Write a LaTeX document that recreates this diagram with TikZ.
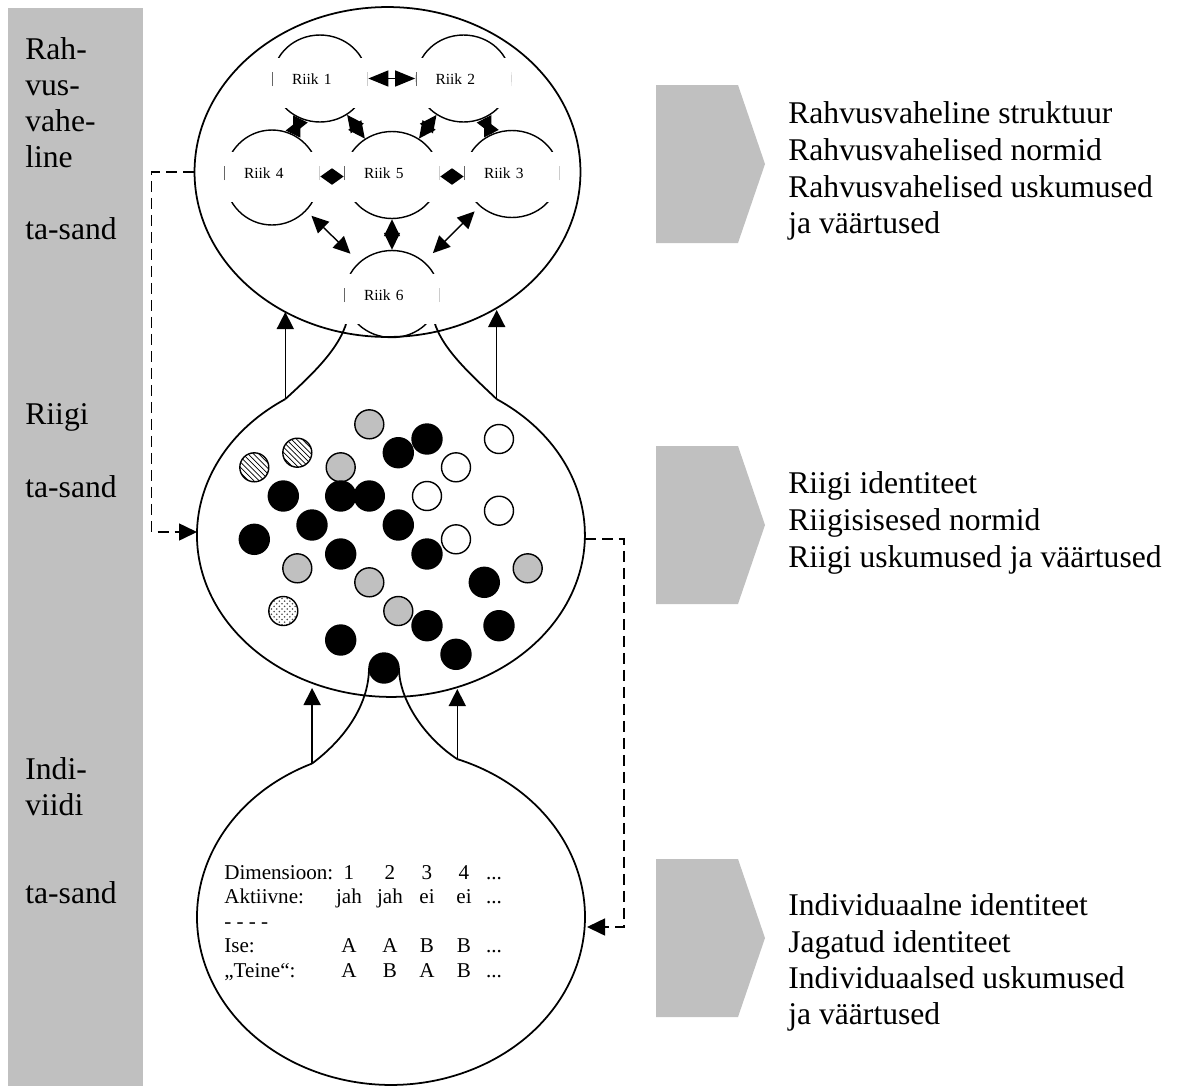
\documentclass[tikz,border=0pt]{standalone}
\usepackage{fontspec}
\setmainfont{Liberation Serif}
\usetikzlibrary{arrows.meta,shapes.geometric,patterns}
\definecolor{grisfond}{HTML}{C0C0C0}
\newcommand{\punktid}{...}
\tikzset{
  ring/.style={ellipse, draw, line width=0.8pt, minimum width=1.88cm, minimum height=1.74cm, inner sep=0pt},
  riik/.style={rectangle, fill=white, inner xsep=0.4cm, inner ysep=0pt, text width=1.12cm, align=left,
               text height=0.53cm, text depth=0.47cm, font=\fontsize{8.8}{10}\selectfont,
               path picture={
                 \draw[black!60, line width=0.5pt] ([xshift=0.3pt, yshift=-0.07cm]path picture bounding box.west)
                   -- ([xshift=0.3pt, yshift=0.21cm]path picture bounding box.west);
                 \draw[black!20, line width=0.5pt] ([xshift=-0.3pt, yshift=-0.07cm]path picture bounding box.east)
                   -- ([xshift=-0.3pt, yshift=0.21cm]path picture bounding box.east);}},
  nool/.style={-{Triangle[length=0.34cm, width=0.34cm]}, line width=0.9pt},
  inool/.style={{Triangle[length=#1, width=0.32cm]}-{Triangle[length=#1, width=0.32cm]}, line width=0.8pt},
  inool/.default=0.34cm,
  katk/.style={dash pattern=on 0.22cm off 0.12cm, line width=0.9pt},
  silt/.style={font=\fontsize{18}{20.7}\selectfont, inner sep=0pt, anchor=base west},
  tabel/.style={font=\fontsize{12}{13.8}\selectfont, inner sep=0pt, anchor=base},
  pall/.style={draw, line width=0.8pt},
}

\begin{document}
\begin{tikzpicture}[x=0.02cm, y=-0.02cm]
  \useasboundingbox (0,0) rectangle (1191,1086);
  % hall riba ja noolekastid
  \fill[grisfond] (8,8) rectangle (143,1086);
  \foreach \a/\b in {85/243, 446/604, 859/1017}
    \fill[grisfond] (656,\a) -- (738,\a) -- (765,{(\a+\b)/2}) -- (738,\b) -- (656,\b) -- cycle;

  % tasandite nimed
  \foreach \t/\y [count=\i] in {Rah-/59, vus-/95, vahe-/131, line/167, ta-sand/239,
      Riigi/424, ta-sand/497, Indi-/779, viidi/815, ta-sand/903}
    \node[silt] (vas\i) at (25,\y) {\t};
  \foreach \t/\y [count=\i] in {Rahvusvaheline struktuur/123, Rahvusvahelised normid/160,
      Rahvusvahelised uskumused/197, ja väärtused/233,
      Riigi identiteet/493, Riigisisesed normid/530, Riigi uskumused ja väärtused/567,
      Individuaalne identiteet/915, Jagatud identiteet/952, Individuaalsed uskumused/988, ja väärtused/1024}
    \node[silt] (par\i) at (788,\y) {\t};

  % riigi tasand
  \coordinate (hl) at (285.3,399.1);
  \coordinate (hr) at (496.7,399.1);
  \draw[line width=1pt] (hl) arc[start angle=123, end angle=417, x radius=3.88cm, y radius=3.24cm];
  \draw[line width=1pt] (hl) .. controls (315,372) and (343,345) .. (348,316);
  \draw[line width=1pt] (hr) .. controls (468,372) and (438,345) .. (433,316);

  % indiviidi tasand
  \coordinate (ll) at (312.1,763.5);
  \coordinate (lr) at (457.3,759.1);
  \draw[line width=1pt] (ll) arc[start angle=114, end angle=430, x radius=3.88cm, y radius=3.36cm];
  \draw[line width=1pt] (ll) .. controls (350,735) and (369,700) .. (369,668);
  \draw[line width=1pt] (lr) .. controls (425,738) and (399,700) .. (399,668);

  % pallid
  \foreach \x/\y in {369.3/424.3, 340.7/467.3, 297.3/568.3, 369.3/582.3, 398.3/611, 527.7/568.3}
    \draw[pall, fill=grisfond] (\x,\y) circle[radius=0.29cm];
  \foreach \x/\y in {499/439, 456/467.3, 427/496, 499/510.7, 456/539.3}
    \draw[pall, fill=white] (\x,\y) circle[radius=0.29cm];
  \foreach \x/\y in {254.3/467.3, 297.3/452.7}
    \draw[pall, pattern=north west lines] (\x,\y) circle[radius=0.29cm];
  \draw[pall, pattern=crosshatch dots, pattern color=black!70] (283.3,611) circle[radius=0.29cm];
  \foreach \x/\y in {398.3/452.7, 427/439, 283.3/496, 340.7/496, 369.3/496, 312/525, 398.3/525,
      254.3/539.3, 340.7/554, 427/554, 484.3/582.3, 427/625.7, 499/625.7, 340.7/640, 456/654.3, 384/668}
    \draw[pall, fill=black] (\x,\y) circle[radius=0.3cm];

  % rahvusvaheline tasand
  \node[ellipse, draw, line width=1pt, minimum width=7.72cm, minimum height=6.6cm, inner sep=0pt]
    (rahv) at (387.5,172) {};
  \node[ring] (c1) at (320,78.5) {};
  \node[ring] (c2) at (463.5,78.5) {};
  \node[ring, minimum height=1.9cm] (c4) at (272,177.5) {};
  \node[ring] (c5) at (392,175) {};
  \node[ring] (c3) at (512,174) {};
  \node[ring] (c6) at (392,294) {};
  \node[riik] (r1) at (320,82.5) {Riik 1};
  \node[riik] (r2) at (463.5,82.5) {Riik 2};
  \node[riik] (r4) at (272,176.5) {Riik 4};
  \node[riik] (r5) at (392,176.5) {Riik 5};
  \node[riik] (r3) at (512,176.5) {Riik 3};
  \node[riik] (r6) at (392,298.5) {Riik 6};
  \draw[inool=0.4cm] (r1.east |- c1) -- (r2.west |- c2);
  \draw[inool=0.23cm] (r4) -- (r5);
  \draw[inool=0.23cm] (r5) -- (r3);
  \draw[inool] (c1) -- (c4);
  \draw[inool] (c1) -- (c5);
  \draw[inool] (c2) -- (c5);
  \draw[inool] (c2) -- (c3);
  \draw[inool] (c5) -- (c6);
  \draw[inool, shorten <=0.14cm, shorten >=0.24cm] (c4) -- (c6);
  \draw[inool, shorten <=0.14cm, shorten >=0.24cm] (c3) -- (c6);

  % nooled tasandite vahel
  \coordinate (tl) at (285.3,312);
  \coordinate (tr) at (496.7,310);
  \coordinate (ml) at (312.1,688);
  \coordinate (mr) at (457.3,689);
  \draw[nool] (hl) -- (tl);
  \draw[nool] (hr) -- (tr);
  \draw[nool] (ll) -- (ml);
  \draw[nool] (lr) -- (mr);
  \coordinate (kl) at (197,532);
  \coordinate (kr1) at (585,539);
  \coordinate (kr2) at (587,927);
  \draw[katk, -{Triangle[length=0.36cm, width=0.34cm]}] (rahv.west) -- ++(-42,0) |- (kl);
  \draw[katk, -{Triangle[length=0.36cm, width=0.34cm]}] (kr1) -- ++(39,0) |- (kr2);

  % tabel
  \foreach \t/\y [count=\i] in {Dimensioon:/879, Aktiivne:/903.5, - - - -/928, Ise:/952.5, „Teine“:/977}
    \node[tabel, anchor=base west] (rida\i) at (224,\y) {\t};
  \foreach \t/\x [count=\j] in {1/349, 2/390, 3/427, 4/464, \punktid/494}
    \node[tabel] (dim\j) at (\x,879) {\t};
  \foreach \t/\x [count=\j] in {jah/349, jah/390, ei/427, ei/464, \punktid/494}
    \node[tabel] (akt\j) at (\x,903.5) {\t};
  \foreach \t/\x [count=\j] in {A/349, A/390, B/427, B/464, \punktid/494}
    \node[tabel] (ise\j) at (\x,952.5) {\t};
  \foreach \t/\x [count=\j] in {A/349, B/390, A/427, B/464, \punktid/494}
    \node[tabel] (teine\j) at (\x,977) {\t};
\end{tikzpicture}
\end{document}
